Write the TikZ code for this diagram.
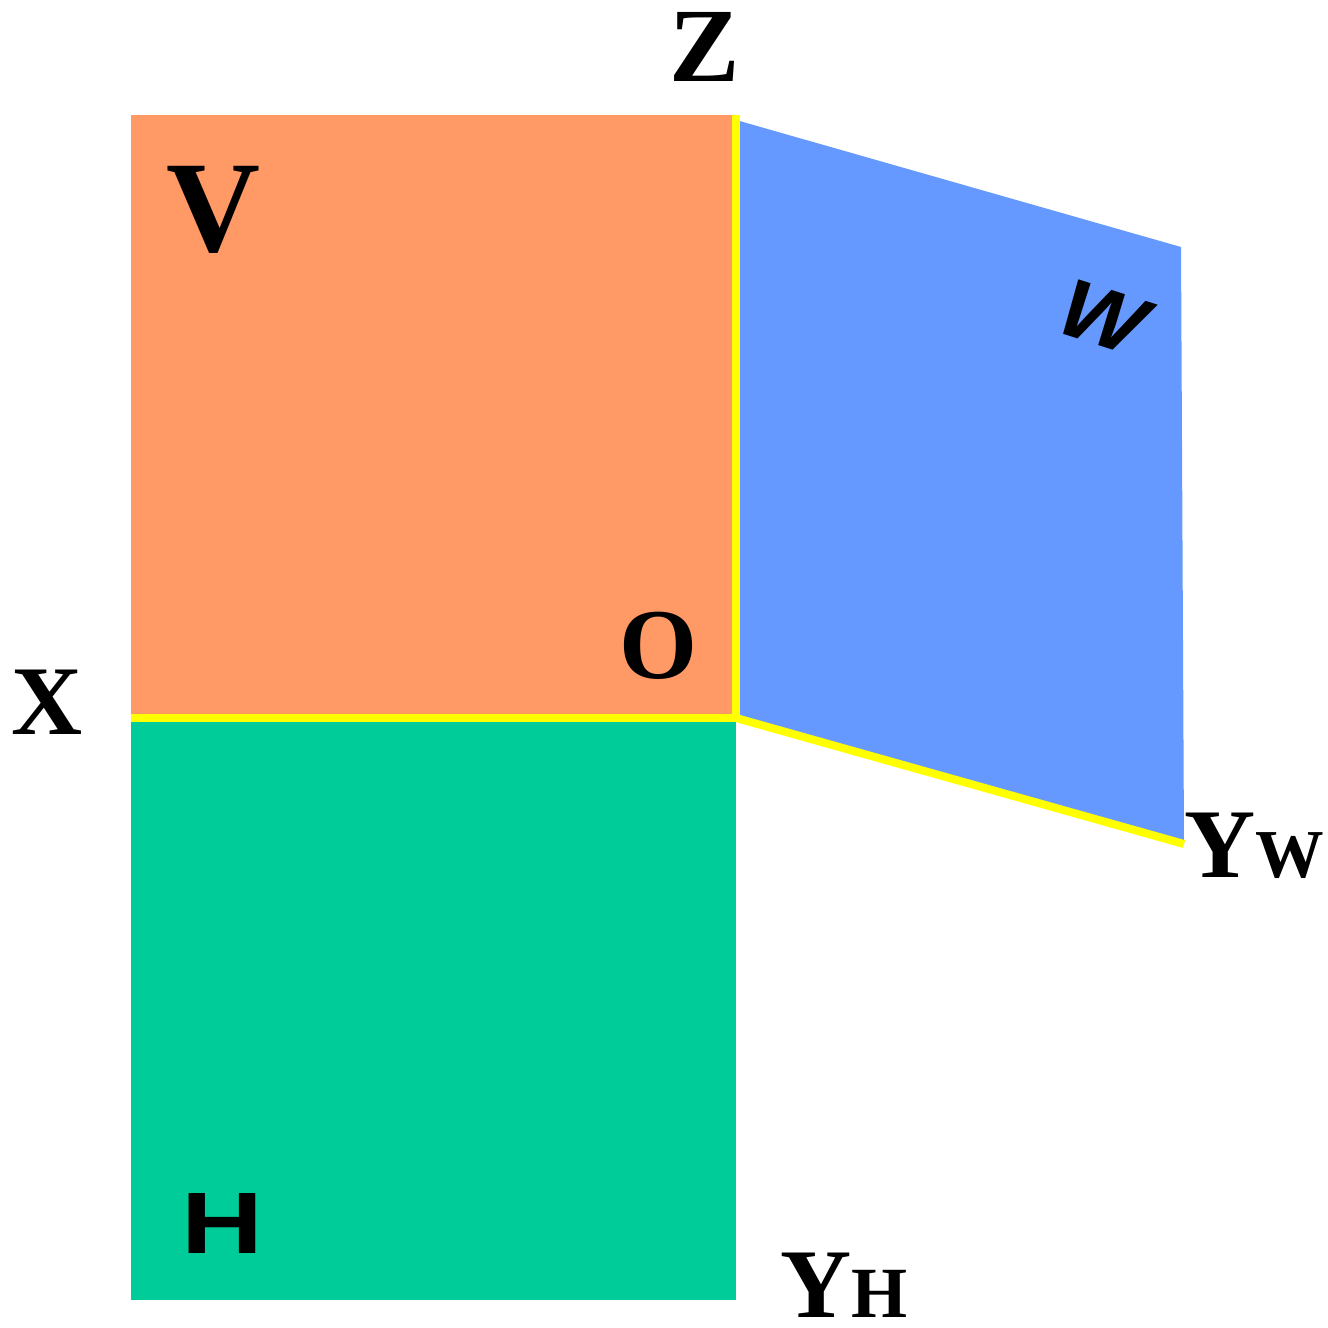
\documentclass[tikz,border=0pt]{standalone}
\usepackage{fontspec}
\setmainfont{Liberation Serif}
\setsansfont{Liberation Sans}
\usetikzlibrary{positioning,calc}
\definecolor{planeV}{RGB}{255,153,102}
\definecolor{planeW}{RGB}{102,153,255}
\definecolor{planeH}{RGB}{0,204,153}
\definecolor{axisYellow}{RGB}{255,255,0}
\tikzset{
  axis line/.style={draw=axisYellow,line width=0.08cm},
  axis label/.style={inner sep=0pt,font=\fontsize{28}{28}\selectfont\bfseries,text=black},
  plane label/.style={inner sep=0pt,font=\fontsize{37}{37}\selectfont\bfseries,text=black}
}
\begin{document}
\begin{tikzpicture}[x=0.01cm,y=-0.01cm]
        \useasboundingbox (0,0) rectangle (1328,1328);
        \coordinate (origin) at (736,718);
        \coordinate (top) at (736,115);
        \coordinate (topW) at (736,120);
        \coordinate (left) at (131,718);
        \coordinate (farW) at (1184,844);
        \fill[planeV] (131,115) rectangle (origin);
        \fill[planeH] (left) rectangle (736,1300);
        \fill[planeW] (topW) -- (1181,247) -- (farW) -- (origin) -- cycle;
        \draw[axis line] (top) -- (origin);
        \draw[axis line] (left) -- (origin);
        \draw[axis line] (origin) -- (farW);
        \node[axis label,font=\fontsize{30}{30}\selectfont\bfseries] (zlabel) at (705,47) {Z};
        \node[axis label] (xlabel) at (47,702) {X};
        \node[axis label,font=\fontsize{28.5}{28.5}\selectfont\bfseries] (olabel) at (658,646) {O};
        \node[plane label] (vlabel) at (213,210) {V};
        \node[plane label,font=\fontsize{24.8}{24.8}\selectfont\sffamily\bfseries,xscale=1.3] (hlabel) at (222,1223) {H};
        \node[plane label,font=\fontsize{24}{24}\selectfont\sffamily\bfseries,cm={1,-0.32,0.52,0.857,(0,0)}] (wlabel) at (1103,317) {W};
        \node[axis label,anchor=base west] (ywlabel) at (1184,877) {Y\fontsize{19.5}{19.5}\selectfont W};
        \node[axis label,anchor=base west] (yhlabel) at (780,1317) {Y\fontsize{20.5}{20.5}\selectfont H};
      \end{tikzpicture}
\end{document}
